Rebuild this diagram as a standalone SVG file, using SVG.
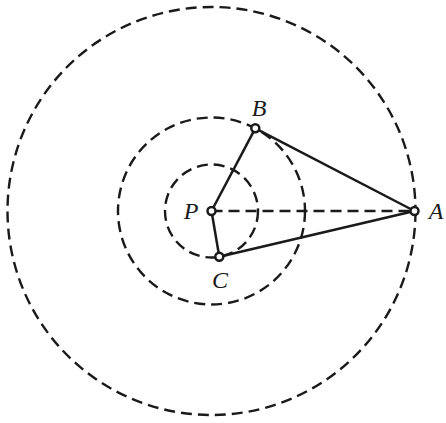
<svg xmlns="http://www.w3.org/2000/svg" width="446" height="423" viewBox="0 0 446 423">
<style>
.d{fill:none;stroke:#1a1a1a;stroke-width:2.4;stroke-dasharray:11 6}
.s{fill:none;stroke:#1a1a1a;stroke-width:2.5}
.pt{fill:#fff;stroke:#1a1a1a;stroke-width:2.5}
.l{font-family:"Liberation Serif","Times New Roman",serif;font-style:italic;font-size:24px;fill:#1a1a1a;text-anchor:middle}
</style>
<rect width="446" height="423" fill="#fff"/>
<g id="circles">
<circle class="d" cx="211.5" cy="211" r="204"/>
<circle class="d" cx="211.5" cy="211" r="93.5"/>
<circle class="d" cx="211.5" cy="211" r="46.5"/>
</g>
<g id="connectors">
<line class="d" x1="211.5" y1="211" x2="414.5" y2="211"/>
<line class="s" x1="211.5" y1="211" x2="255.3" y2="128.3"/>
<line class="s" x1="211.5" y1="211" x2="219.3" y2="256.7"/>
<line class="s" x1="255.3" y1="128.3" x2="414.5" y2="211"/>
<line class="s" x1="219.3" y1="256.7" x2="414.5" y2="211"/>
</g>
<g id="P"><circle class="pt" cx="211.5" cy="211" r="4"/><text class="l" x="191" y="219">P</text></g>
<g id="A"><circle class="pt" cx="414.5" cy="211" r="4"/><text class="l" x="436" y="219">A</text></g>
<g id="B"><circle class="pt" cx="255.3" cy="128.3" r="4"/><text class="l" x="259" y="116">B</text></g>
<g id="C"><circle class="pt" cx="219.3" cy="256.7" r="4"/><text class="l" x="220" y="288">C</text></g>
</svg>
